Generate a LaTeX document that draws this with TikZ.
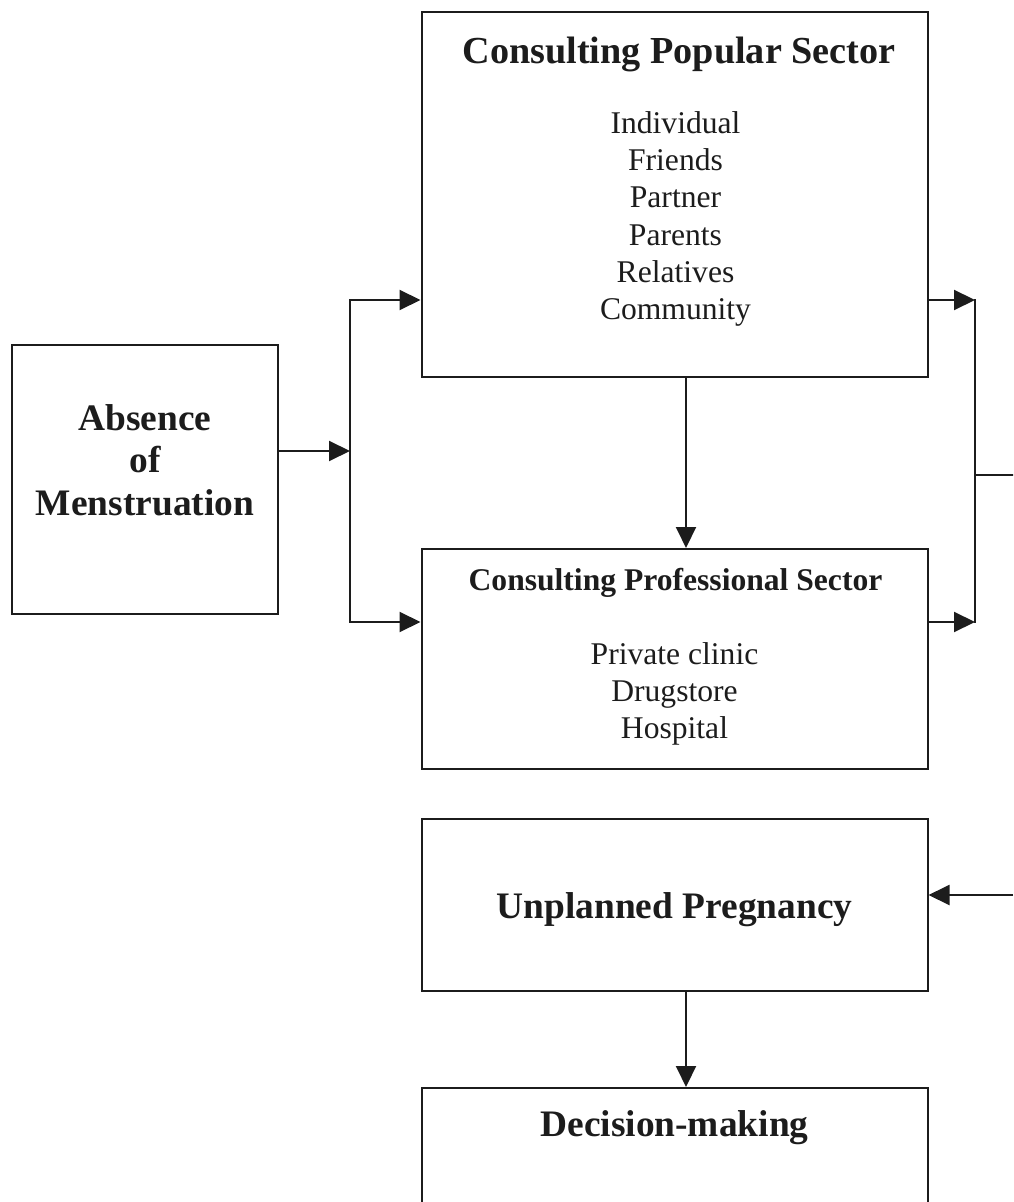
\documentclass[tikz,border=0pt]{standalone}
\usepackage{fontspec}
\setmainfont{Liberation Serif}
\usepackage{tikz}
\usetikzlibrary{positioning,arrows.meta,calc}
\definecolor{ink}{HTML}{1C1C1C}
\tikzset{
  sectbox/.style={draw=ink, line width=1pt, inner sep=0pt, minimum width=253pt},
  bigtxt/.style={font=\bfseries\fontsize{18.7}{21.3}\selectfont, text=ink, align=center, inner sep=0pt},
  subtxt/.style={font=\bfseries\fontsize{15.8}{18.6}\selectfont, text=ink, inner sep=0pt},
  listtxt/.style={font=\fontsize{15.8}{18.6}\selectfont, text=ink, align=center, inner sep=0pt},
  arr/.style={-{Triangle[length=10.5pt,width=10pt]}, draw=ink, line width=1pt},
  wire/.style={draw=ink, line width=1pt, line cap=rect},
}

\begin{document}
\begin{tikzpicture}[x=0.5pt, y=-0.5pt]
\path[use as bounding box, clip] (0,0) rectangle (1013,1202);
\node[sectbox, minimum width=133pt, minimum height=134.5pt] (abs) at (145,479.5) {};
\node[bigtxt] (absT) at (145,460) {Absence\\of\\Menstruation};
\node[sectbox, minimum height=182.5pt] (pop) at (674.5,194.5) {};
\node[bigtxt, font=\bfseries\fontsize{19.1}{21.3}\selectfont] (popHead) at (679,54) {Consulting Popular Sector};
\node[listtxt] (popList) at (675.5,219) {Individual\\Friends\\Partner\\Parents\\Relatives\\Community};
\node[sectbox, minimum height=110pt] (prof) at (674.5,659) {};
\node[subtxt] (profHead) at (675.5,583) {Consulting Professional Sector};
\node[listtxt] (profList) at (674.5,694) {Private clinic\\Drugstore\\Hospital};
\node[sectbox, bigtxt, anchor=north, text height=49.5pt, text depth=36.5pt] (unp) at (674.5,818) {Unplanned Pregnancy};
\node[sectbox, bigtxt, anchor=north, text height=24pt, text depth=100pt] (dec) at (674.5,1087) {Decision-making};
\coordinate (jL) at (350,451);
\coordinate (jLtop) at (350,300);
\coordinate (jLbot) at (350,622);
\coordinate (jRtop) at (975,300);
\coordinate (jRmid) at (975,475);
\coordinate (jRbot) at (975,622);
\coordinate (outR) at (1013,475);
\coordinate (inR) at (1013,895);
\coordinate (midx) at (686,0);
\draw[arr] (abs.east |- jL) -- (jL);
\draw[arr] (jLbot) -- (jLtop) -- (jLtop -| pop.west);
\draw[arr] (jLtop) -- (jLbot) -- (jLbot -| prof.west);
\draw[arr] (pop.east |- jRtop) -- (jRtop);
\draw[arr] (prof.east |- jRbot) -- (jRbot);
\draw[wire] (jRtop) -- (jRbot);
\draw[wire] (jRmid) -- (outR);
\draw[arr] (inR) -- (inR -| unp.east);
\draw[arr] (pop.south -| midx) -- (prof.north -| midx);
\draw[arr] (unp.south -| midx) -- (dec.north -| midx);
\end{tikzpicture}
\end{document}
